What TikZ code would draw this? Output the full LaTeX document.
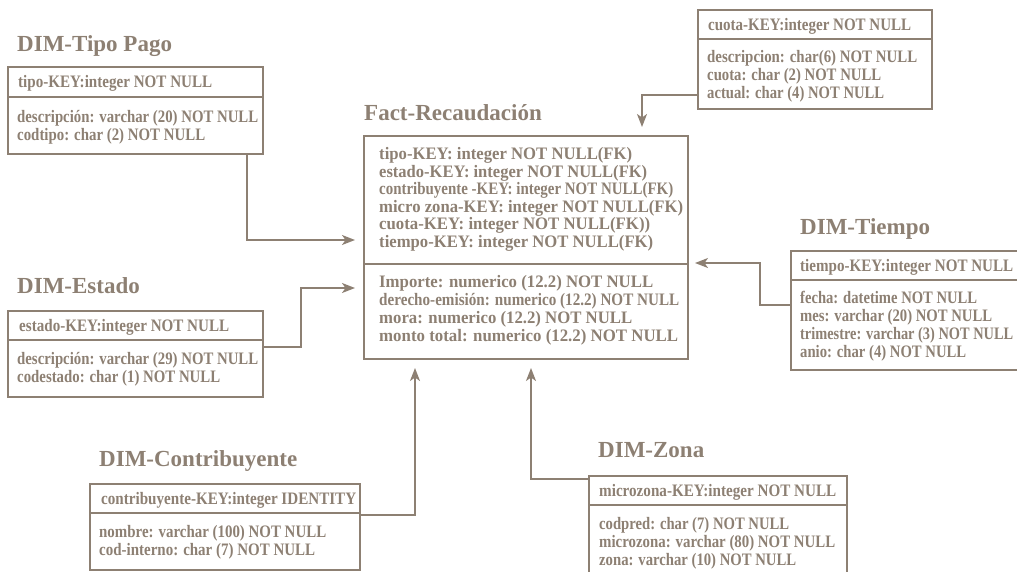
\documentclass[tikz,border=0pt]{standalone}
\usepackage{fontspec}
\setmainfont{Liberation Serif}
\usepackage{graphicx}
\usetikzlibrary{arrows.meta,calc}
\definecolor{ink}{RGB}{141,128,115}
% stretch or squeeze a line of text to a given width (in pt) without changing its height
\newcommand{\fitw}[2]{\resizebox{#1pt}{\height}{#2}}
\tikzset{
  tbox/.style={draw=ink, line width=1.8pt, rectangle, inner sep=0pt, outer sep=0pt, anchor=north west},
  rule/.style={draw=ink, line width=1.8pt},
  conn/.style={draw=ink, line width=1.6pt, -{Stealth[length=13pt,width=10pt,inset=3.5pt]}},
  ttl/.style={inner sep=0pt, anchor=base west, text=ink, font=\fontsize{23}{27}\selectfont\bfseries},
  fld/.style={inner sep=0pt, anchor=base west, text=ink, font=\fontsize{17.5}{18}\selectfont\bfseries},
  ffld/.style={inner sep=0pt, anchor=base west, text=ink, font=\fontsize{17.5}{18}\selectfont\bfseries},
}
\begin{document}
\begin{tikzpicture}[x=1pt,y=-1pt]
\useasboundingbox (0,0) rectangle (1017,571);

% ---------- titles ----------
\node[ttl] (tTipo)    at (17,51)  {DIM-Tipo Pago};
\node[ttl] (tFact)    at (364,120) {Fact-Recaudación};
\node[ttl] (tTiempo)  at (800,234) {DIM-Tiempo};
\node[ttl] (tEstado)  at (17,293) {DIM-Estado};
\node[ttl] (tContrib) at (99,466) {DIM-Contribuyente};
\node[ttl] (tZona)    at (598,457) {DIM-Zona};

% ---------- table frames ----------
\node[tbox, minimum width=255pt, minimum height=87pt]  (tipo)    at (8,67)   {};
\node[tbox, minimum width=234pt, minimum height=99pt]  (cuota)   at (698,10) {};
\node[tbox, minimum width=228pt, minimum height=119pt] (tiempo)  at (791,251) {};
\node[tbox, minimum width=255pt, minimum height=86pt]  (estado)  at (8,311)  {};
\node[tbox, minimum width=270pt, minimum height=86pt]  (contrib) at (90,484) {};
\node[tbox, minimum width=258pt, minimum height=98pt]  (zona)    at (589,476) {};
\node[tbox, minimum width=324pt, minimum height=223pt] (fact)    at (364,136) {};

% key / attribute separators
\draw[rule] (tipo.west |- 0,97)    -- (tipo.east |- 0,97);
\draw[rule] (cuota.west |- 0,39)   -- (cuota.east |- 0,39);
\draw[rule] (tiempo.west |- 0,280) -- (tiempo.east |- 0,280);
\draw[rule] (estado.west |- 0,340) -- (estado.east |- 0,340);
\draw[rule] (contrib.west |- 0,513) -- (contrib.east |- 0,513);
\draw[rule] (zona.west |- 0,505)   -- (zona.east |- 0,505);
\draw[rule] (fact.west |- 0,264)   -- (fact.east |- 0,264);

% ---------- DIM-Tipo Pago ----------
\node[fld] (tipoK) at (18,87.5)  {\fitw{194}{tipo-KEY:integer NOT NULL}};
\node[fld] (tipo1) at (17,122.5) {\fitw{241}{descripción: varchar (20) NOT NULL}};
\node[fld] (tipo2) at (17,140.5) {\fitw{188}{codtipo: char (2) NOT NULL}};

% ---------- cuota ----------
\node[fld] (cuotaK) at (708,30.5) {\fitw{203}{cuota-KEY:integer NOT NULL}};
\node[fld] (cuota1) at (707,62.5) {\fitw{210}{descripcion: char(6) NOT NULL}};
\node[fld] (cuota2) at (707,80.5) {\fitw{174}{cuota: char (2) NOT NULL}};
\node[fld] (cuota3) at (707,98.5) {\fitw{177}{actual: char (4) NOT NULL}};

% ---------- DIM-Tiempo ----------
\node[fld] (tiempoK) at (800,271.5) {\fitw{213}{tiempo-KEY:integer NOT NULL}};
\node[fld] (tiempo1) at (800,303) {\fitw{177}{fecha: datetime NOT NULL}};
\node[fld] (tiempo2) at (800,321) {\fitw{192}{mes: varchar (20) NOT NULL}};
\node[fld] (tiempo3) at (800,339) {\fitw{213}{trimestre: varchar (3) NOT NULL}};
\node[fld] (tiempo4) at (800,357) {\fitw{166}{anio: char (4) NOT NULL}};

% ---------- DIM-Estado ----------
\node[fld] (estadoK) at (19,331.5) {\fitw{210}{estado-KEY:integer NOT NULL}};
\node[fld] (estado1) at (17,364.5) {\fitw{241}{descripción: varchar (29) NOT NULL}};
\node[fld] (estado2) at (17,382.5) {\fitw{203}{codestado: char (1) NOT NULL}};

% ---------- DIM-Contribuyente ----------
\node[fld] (contribK) at (101,504.5) {\fitw{255}{contribuyente-KEY:integer IDENTITY}};
\node[fld] (contrib1) at (99,537)  {\fitw{227}{nombre: varchar (100) NOT NULL}};
\node[fld] (contrib2) at (99,555)  {\fitw{216}{cod-interno: char (7) NOT NULL}};

% ---------- DIM-Zona ----------
\node[fld] (zonaK) at (599,496.5) {\fitw{237}{microzona-KEY:integer NOT NULL}};
\node[fld] (zona1) at (599,529) {\fitw{190}{codpred: char (7) NOT NULL}};
\node[fld] (zona2) at (599,547) {\fitw{236}{microzona: varchar (80) NOT NULL}};
\node[fld] (zona3) at (599,565) {\fitw{197}{zona: varchar (10) NOT NULL}};

% ---------- Fact-Recaudación ----------
\node[ffld] (f1) at (379,159.5) {\fitw{253}{tipo-KEY: integer NOT NULL(FK)}};
\node[ffld] (f2) at (379,177)   {\fitw{268}{estado-KEY: integer NOT NULL(FK)}};
\node[ffld] (f3) at (379,194.5) {\fitw{294}{contribuyente -KEY: integer NOT NULL(FK)}};
\node[ffld] (f4) at (379,212)   {\fitw{304}{micro zona-KEY: integer NOT NULL(FK)}};
\node[ffld] (f5) at (379,229.5) {\fitw{271}{cuota-KEY: integer NOT NULL(FK))}};
\node[ffld] (f6) at (379,247)   {\fitw{274}{tiempo-KEY: integer NOT NULL(FK)}};
\node[ffld] (f7) at (379,287.5) {\fitw{274}{Importe: numerico (12.2) NOT NULL}};
\node[ffld] (f8) at (379,305.5) {\fitw{300}{derecho-emisión: numerico (12.2) NOT NULL}};
\node[ffld] (f9) at (379,323.5) {\fitw{253}{mora: numerico (12.2) NOT NULL}};
\node[ffld] (f10) at (379,341.5) {\fitw{299}{monto total: numerico (12.2) NOT NULL}};

% ---------- arrow ends next to the fact table ----------
\coordinate (tipoIn)    at (355,240);
\coordinate (estadoIn)  at (355,288);
\coordinate (contribIn) at (415,368);
\coordinate (zonaIn)    at (531,368);
\coordinate (tiempoIn)  at (695,263);
\coordinate (cuotaIn)   at (642,127);

% ---------- connectors ----------
\draw[conn] ([xshift=-16pt]tipo.south east) |- (tipoIn);
\draw[conn] ([yshift=7pt]estado.east) -- ++(38,0) |- (estadoIn);
\draw[conn] ([yshift=12pt]contrib.east) -| (contribIn);
\draw[conn] ([yshift=-3pt]zona.north west) -| (zonaIn);
\draw[conn] ([yshift=5.5pt]tiempo.west) -- ++(-31,0) |- (tiempoIn);
\draw[conn] ([yshift=-35.5pt]cuota.west) -| (cuotaIn);
\end{tikzpicture}
\end{document}
